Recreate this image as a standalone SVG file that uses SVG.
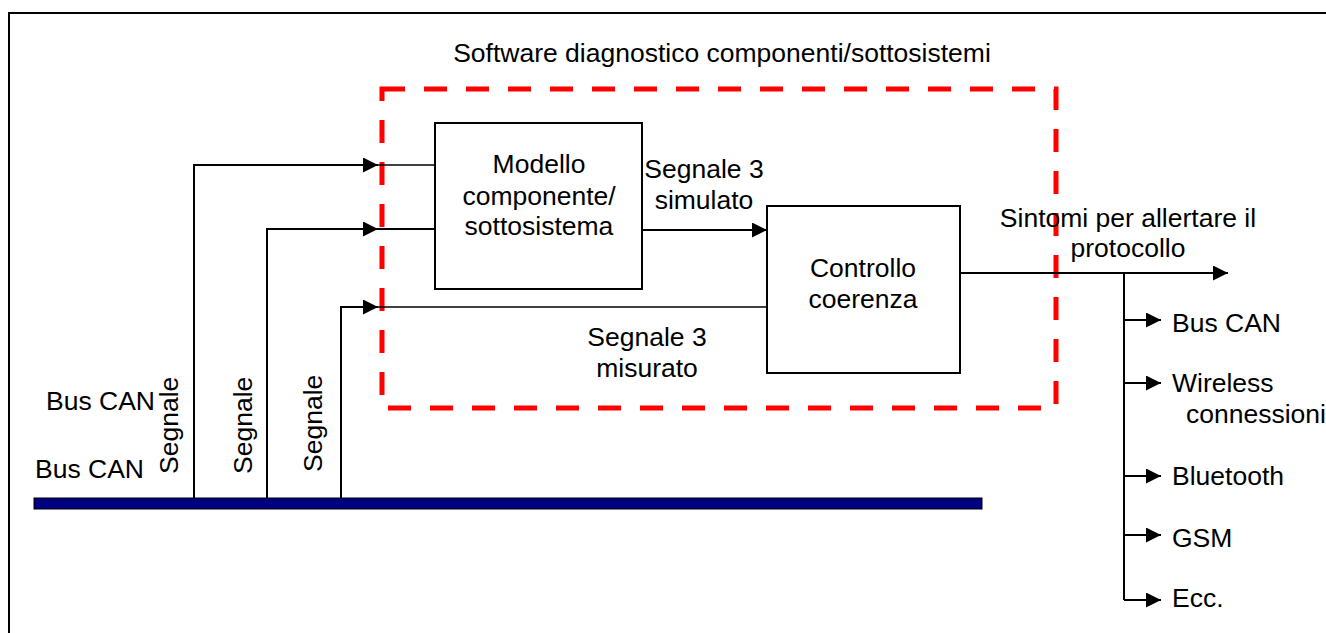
<svg xmlns="http://www.w3.org/2000/svg" width="1326" height="633" viewBox="0 0 1326 633">
<style>
text{font-family:"Liberation Sans",Arial,sans-serif;font-size:26.5px;fill:#000}
.c{text-anchor:middle}
.box{fill:#fff;stroke:#000;stroke-width:2}
.ln{fill:none;stroke:#000;stroke-width:2}
.thin{fill:none;stroke:#000;stroke-width:1.3}
</style>
<defs>
<marker id="ah" markerUnits="userSpaceOnUse" markerWidth="15" markerHeight="15" refX="15" refY="7.5" orient="auto">
<path d="M0,0 L15,7.5 L0,15 z" fill="#000"/>
</marker>
</defs>
<rect width="1326" height="633" fill="#fff"/>
<rect id="frame" x="9" y="13" width="1340" height="640" fill="none" stroke="#000" stroke-width="2"/>
<g id="title"><text class="c" x="722" y="62">Software diagnostico componenti/sottosistemi</text></g>
<g id="boundary"><rect x="382" y="89" width="674" height="319" fill="none" stroke="#ff0000" stroke-width="5" stroke-dasharray="23 19"/></g>
<g id="bus">
<rect x="34" y="498" width="948" height="11" fill="#000080" stroke="#000" stroke-width="1"/>
<text x="46" y="410">Bus CAN</text>
<text x="35" y="478">Bus CAN</text>
</g>
<g id="connectors">
<path class="ln" d="M194,498 V165 H378" marker-end="url(#ah)"/>
<path class="thin" d="M378,165 H435"/>
<path class="ln" d="M267,498 V229 H378" marker-end="url(#ah)"/>
<path class="ln" d="M378,229 H435"/>
<path class="ln" d="M341,498 V307 H378" marker-end="url(#ah)"/>
<path class="thin" d="M378,307 H767"/>
<path class="ln" d="M642,230 H767" marker-end="url(#ah)"/>
<path class="ln" d="M960,273 H1228" marker-end="url(#ah)"/>
<path class="ln" d="M1124,273 V600"/>
<path class="ln" d="M1124,320 H1161" marker-end="url(#ah)"/>
<path class="ln" d="M1124,383 H1161" marker-end="url(#ah)"/>
<path class="ln" d="M1124,476 H1161" marker-end="url(#ah)"/>
<path class="ln" d="M1124,535 H1161" marker-end="url(#ah)"/>
<path class="ln" d="M1124,600 H1161" marker-end="url(#ah)"/>
</g>
<g id="signal-labels">
<text transform="translate(178,474) rotate(-90)">Segnale</text>
<text transform="translate(252,474) rotate(-90)">Segnale</text>
<text transform="translate(322,472) rotate(-90)">Segnale</text>
</g>
<g id="modello">
<rect class="box" x="435" y="123" width="207" height="166"/>
<text class="c" x="539" y="173">Modello</text>
<text class="c" x="539" y="205">componente/</text>
<text class="c" x="539" y="235">sottosistema</text>
</g>
<g id="simulato-label">
<text class="c" x="704" y="178">Segnale 3</text>
<text class="c" x="704" y="209">simulato</text>
</g>
<g id="misurato-label">
<text class="c" x="647" y="346">Segnale 3</text>
<text class="c" x="647" y="377">misurato</text>
</g>
<g id="controllo">
<rect class="box" x="767" y="206" width="193" height="167"/>
<text class="c" x="863" y="277">Controllo</text>
<text class="c" x="863" y="308">coerenza</text>
</g>
<g id="sintomi-label">
<text class="c" x="1128" y="227">Sintomi per allertare il</text>
<text class="c" x="1128" y="257">protocollo</text>
</g>
<g id="outputs">
<text x="1172" y="332">Bus CAN</text>
<text x="1172" y="392">Wireless</text>
<text x="1186" y="423">connessioni</text>
<text x="1172" y="485">Bluetooth</text>
<text x="1172" y="547">GSM</text>
<text x="1172" y="607">Ecc.</text>
</g>
</svg>
